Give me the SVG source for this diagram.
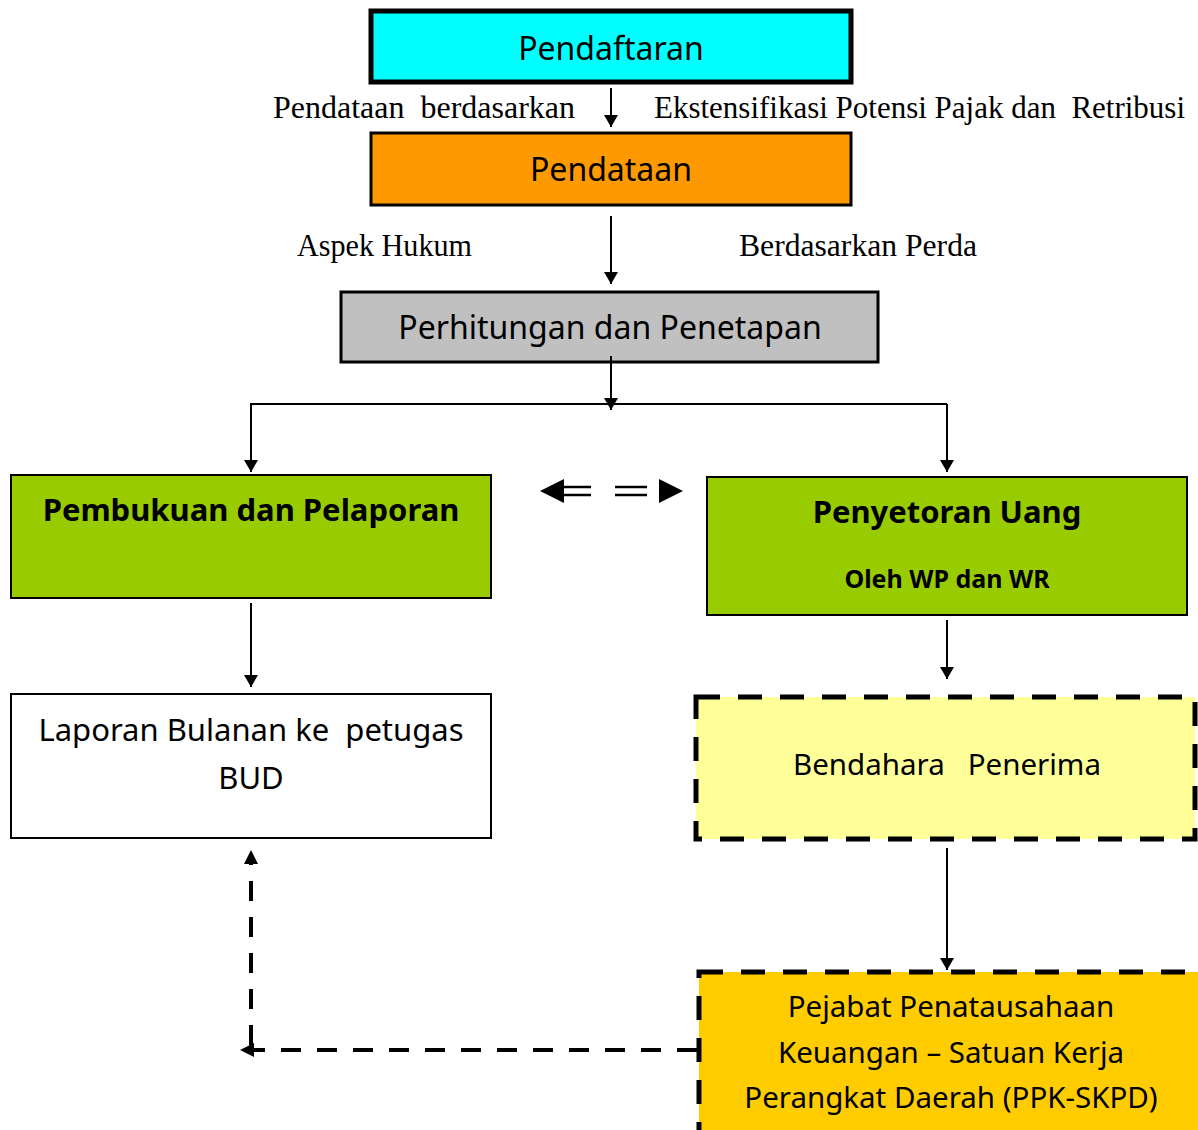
<svg xmlns="http://www.w3.org/2000/svg" width="1198" height="1130" viewBox="0 0 1198 1130">
<style>
.s{font-family:"Noto Sans","Open Sans",sans-serif;fill:#000;text-anchor:middle}
.sb{font-family:"Noto Sans","Open Sans",sans-serif;font-weight:bold;fill:#000;text-anchor:middle}
.r{font-family:"Liberation Serif","DejaVu Serif",serif;fill:#000;font-size:31px}
.ln{stroke:#000;stroke-width:2;fill:none}
.dl{stroke:#000;stroke-width:4;fill:none;stroke-dasharray:20 16}
</style>
<defs>
<marker id="ah" markerWidth="12" markerHeight="14" refX="12" refY="7" orient="auto" markerUnits="userSpaceOnUse">
<path d="M0,0 L12,7 L0,14 Z" fill="#000"/>
</marker>
</defs>
<rect width="1198" height="1130" fill="#fff"/>

<g id="pendaftaran">
<rect x="371" y="11" width="480" height="71" fill="#00FFFF" stroke="#000" stroke-width="5"/>
<text class="s" x="611" y="60" font-size="32">Pendaftaran</text>
</g>
<g id="label1">
<text class="r" x="273" y="118" textLength="302" lengthAdjust="spacingAndGlyphs" xml:space="preserve">Pendataan  berdasarkan</text>
<text class="r" x="654" y="118" textLength="531" lengthAdjust="spacingAndGlyphs" xml:space="preserve">Ekstensifikasi Potensi Pajak dan  Retribusi</text>
</g>
<g id="pendataan">
<rect x="371" y="133" width="480" height="72" fill="#FF9900" stroke="#000" stroke-width="3"/>
<text class="s" x="611" y="181" font-size="32">Pendataan</text>
</g>
<g id="label2">
<text class="r" x="297" y="256" textLength="175" lengthAdjust="spacingAndGlyphs">Aspek Hukum</text>
<text class="r" x="739" y="256" textLength="238" lengthAdjust="spacingAndGlyphs">Berdasarkan Perda</text>
</g>
<g id="perhitungan">
<rect x="341" y="292" width="537" height="70" fill="#C0C0C0" stroke="#000" stroke-width="3"/>
<text class="s" x="610" y="339" font-size="32">Perhitungan dan Penetapan</text>
</g>
<g id="pembukuan">
<rect x="11" y="475" width="480" height="123" fill="#99CC00" stroke="#000" stroke-width="2"/>
<text class="sb" x="251" y="521" font-size="31">Pembukuan dan Pelaporan</text>
</g>
<g id="penyetoran">
<rect x="707" y="477" width="480" height="138" fill="#99CC00" stroke="#000" stroke-width="2"/>
<text class="sb" x="947" y="523" font-size="31">Penyetoran Uang</text>
<text class="sb" x="947" y="588" font-size="25">Oleh WP dan WR</text>
</g>
<g id="laporan">
<rect x="11" y="694" width="480" height="144" fill="#fff" stroke="#000" stroke-width="2"/>
<text class="s" x="251" y="741" font-size="31" xml:space="preserve">Laporan Bulanan ke  petugas</text>
<text class="s" x="251" y="789" font-size="31">BUD</text>
</g>
<g id="bendahara">
<rect x="696" y="697" width="499" height="142" fill="#FFFF99" stroke="#000" stroke-width="5" stroke-dasharray="24 18"/>
<text class="s" x="947" y="775" font-size="29.5" xml:space="preserve">Bendahara   Penerima</text>
</g>
<g id="ppk">
<rect x="699" y="972" width="505" height="170" fill="#FFCC00" stroke="#000" stroke-width="5" stroke-dasharray="24 18"/>
<text class="s" x="951" y="1017" font-size="29.5">Pejabat Penatausahaan</text>
<text class="s" x="951" y="1063" font-size="29.5">Keuangan – Satuan Kerja</text>
<text class="s" x="951" y="1108" font-size="29.5">Perangkat Daerah (PPK-SKPD)</text>
</g>

<g id="connectors">
<line class="ln" x1="611" y1="88" x2="611" y2="127" marker-end="url(#ah)"/>
<line class="ln" x1="611" y1="216" x2="611" y2="284" marker-end="url(#ah)"/>
<line class="ln" x1="611" y1="356" x2="611" y2="410" marker-end="url(#ah)"/>
<line class="ln" x1="250" y1="404" x2="947" y2="404"/>
<line class="ln" x1="251" y1="404" x2="251" y2="472" marker-end="url(#ah)"/>
<line class="ln" x1="947" y1="404" x2="947" y2="472" marker-end="url(#ah)"/>
<line class="ln" x1="251" y1="603" x2="251" y2="687" marker-end="url(#ah)"/>
<line class="ln" x1="947" y1="620" x2="947" y2="679" marker-end="url(#ah)"/>
<line class="ln" x1="947" y1="848" x2="947" y2="970" marker-end="url(#ah)"/>
<path d="M540,491 L564,479 L564,503 Z" fill="#000"/>
<line x1="562" y1="487" x2="591" y2="487" stroke="#000" stroke-width="2.5"/>
<line x1="562" y1="495" x2="591" y2="495" stroke="#000" stroke-width="2.5"/>
<line x1="615" y1="487" x2="647" y2="487" stroke="#000" stroke-width="2.5"/>
<line x1="615" y1="495" x2="647" y2="495" stroke="#000" stroke-width="2.5"/>
<path d="M683,491 L659,479 L659,503 Z" fill="#000"/>
<line class="dl" x1="697" y1="1050" x2="252" y2="1050"/>
<path d="M240,1050 L254,1043 L254,1057 Z" fill="#000"/>
<line class="dl" x1="251" y1="1045" x2="251" y2="862"/>
<path d="M251,850 L244,864 L258,864 Z" fill="#000"/>
</g>
</svg>
